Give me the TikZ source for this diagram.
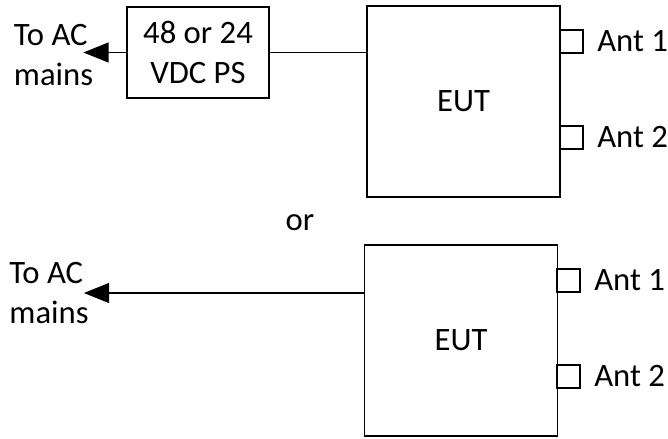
\documentclass[tikz,border=0pt]{standalone}
\usepackage{fontspec}
\setmainfont{Carlito}
\usetikzlibrary{arrows.meta,positioning}

\begin{document}
\begin{tikzpicture}[x=0.75pt,y=-0.75pt,node distance=10.5pt,
    every node/.style={font=\fontsize{24.5}{30}\selectfont},
    blk/.style={draw,line width=1.1pt,inner sep=0pt,outer sep=0pt},
    eutbox/.style={blk,minimum width=144.75pt,minimum height=143.25pt},
    antbox/.style={blk,minimum size=17.25pt,anchor=west},
    lbl/.style={inner sep=0pt,align=left},
    feed/.style={line width=1.1pt,-{Triangle[length=19pt,width=15pt]}}]
  \useasboundingbox (0,0) rectangle (668,439);
  % with power supply
  \node[eutbox] (eut) at (463.5,101.5) {EUT};
  \node[blk,minimum width=106.5pt,minimum height=68.25pt,align=center] (ps) at (198,52.5) {48 or 24\\VDC PS};
  \node[lbl] (ac) at (53.5,55) {To AC\\mains};
  \node[antbox] (antA1) at (560,41.5) {};
  \node[antbox] (antA2) at (560,137.5) {};
  \node[lbl,right=of antA1] {Ant 1};
  \node[lbl,right=of antA2] {Ant 2};
  \draw[line width=1.1pt] (ps.east) -- (ps.east -| eut.west);
  \draw[feed] (ps.west) -- ([xshift=-7.5pt]ac.east |- ps.west);

  \node[lbl] (sep) at (300,222.5) {or};

  % direct from mains
  \node[eutbox] (eutb) at (461,340.5) {EUT};
  \node[lbl] (acb) at (49,293) {To AC\\mains};
  \node[antbox] (antB1) at (557,280.5) {};
  \node[antbox] (antB2) at (557,376.5) {};
  \node[lbl,right=of antB1] {Ant 1};
  \node[lbl,right=of antB2] {Ant 2};
  \draw[feed] (eutb.west |- acb) -- ([xshift=-3.75pt]acb.east);
\end{tikzpicture}
\end{document}
